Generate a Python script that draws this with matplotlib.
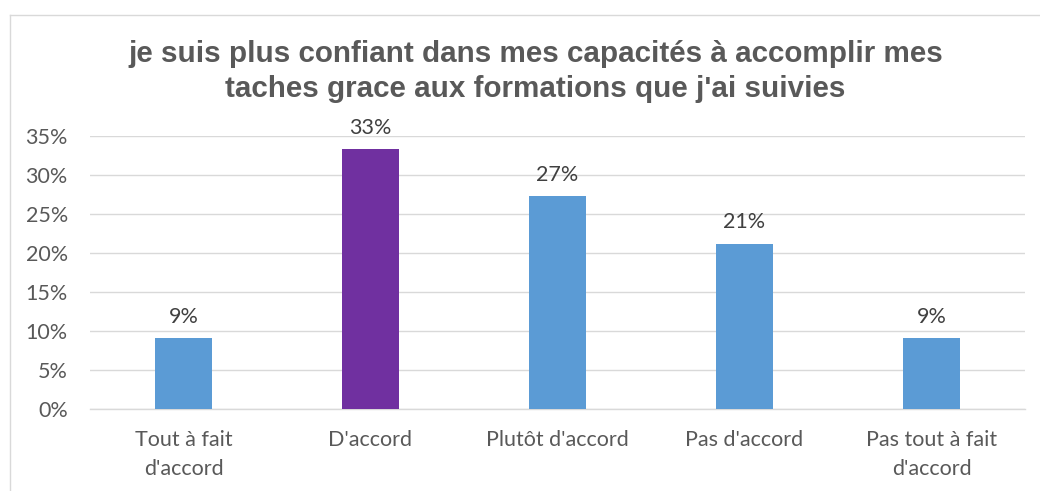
import matplotlib
matplotlib.use("Agg")
import matplotlib.pyplot as plt
from matplotlib.lines import Line2D
from matplotlib.ticker import PercentFormatter

categories = ["Tout à fait\nd'accord", "D'accord", "Plutôt d'accord", "Pas d'accord", "Pas tout à fait\nd'accord"]
values = [3/33, 11/33, 9/33, 7/33, 3/33]
labels = ["9%", "33%", "27%", "21%", "9%"]
colors = ["#5B9BD5", "#7030A0", "#5B9BD5", "#5B9BD5", "#5B9BD5"]
yticks = [0, 0.05, 0.10, 0.15, 0.20, 0.25, 0.30, 0.35]
title = "je suis plus confiant dans mes capacités à accomplir mes\ntaches grace aux formations que j'ai suivies"

W, H = 1040, 491
fig = plt.figure(figsize=(W/100, H/100), dpi=100)
ax = fig.add_axes([90/W, 1-409/H, (1025-90)/W, (409-136)/H])

FONT = ["Lato", "DejaVu Sans"]
x = range(len(categories))
bars = ax.bar(x, values, width=0.31, color=colors, zorder=3)
for b, lab in zip(bars, labels):
    ax.annotate(lab, (b.get_x()+b.get_width()/2, b.get_height()), xytext=(0, 8),
                textcoords="offset points", ha="center", va="bottom",
                fontsize=15.5, color="#404040", family=FONT)

ax.set_xlim(-0.5, len(categories)-0.5)
ax.set_ylim(0, 0.35)
ax.set_yticks(yticks)
ax.yaxis.set_major_formatter(PercentFormatter(1.0, decimals=0))
ax.grid(axis="y", color="#D9D9D9", linewidth=1, zorder=0)
for s in ["top", "right", "left"]:
    ax.spines[s].set_visible(False)
ax.spines["bottom"].set_color("#D9D9D9")
ax.spines["bottom"].set_linewidth(1)
ax.set_xticks(list(x))
ax.set_xticklabels(categories, fontsize=15.5, color="#595959", family=FONT, linespacing=1.55)
for t in ax.get_yticklabels():
    t.set_fontsize(15.5)
    t.set_color("#595959")
    t.set_family(FONT)
ax.tick_params(axis="both", length=0)
ax.tick_params(axis="x", pad=15)
ax.tick_params(axis="y", pad=16)

fig.text(0.515, 1-71.5/H, title, ha="center", va="center", fontsize=21.3, fontweight="bold",
         color="#595959", family=["Liberation Sans", "DejaVu Sans"], linespacing=1.36)

# chart border
fig.add_artist(Line2D([9.5/W, 9.5/W], [0, 1-14.5/H], transform=fig.transFigure, color="#D9D9D9", linewidth=1))
fig.add_artist(Line2D([9.5/W, 1], [1-14.5/H, 1-14.5/H], transform=fig.transFigure, color="#D9D9D9", linewidth=1))

fig.savefig("out.png", dpi=100)
